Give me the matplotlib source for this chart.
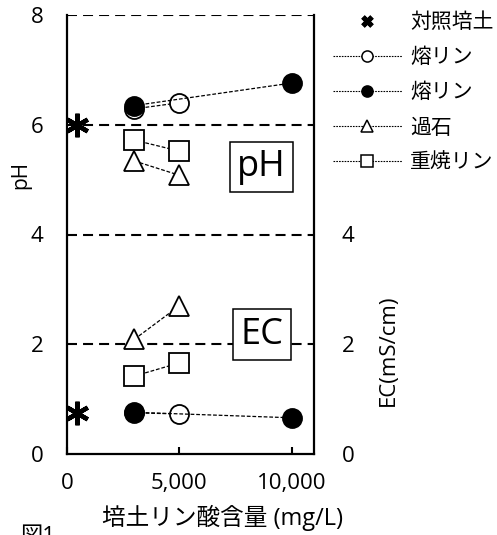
import matplotlib
matplotlib.use("Agg")
import matplotlib.pyplot as plt
from matplotlib.lines import Line2D

plt.rcParams['font.family'] = ['Open Sans', 'Noto Sans CJK JP', 'DejaVu Sans']

# ---- data ----
labels = ['対照培土', '熔リン', '熔リン', '過石', '重焼リン']
x_control = [450]
ph_control = [6.0]
ec_control = [0.75]

x_yorin_open = [3000, 5000]
ph_yorin_open = [6.29, 6.40]
ec_yorin_open = [0.75, 0.73]

x_yorin_fill = [3000, 10000]
ph_yorin_fill = [6.35, 6.76]
ec_yorin_fill = [0.76, 0.66]

x_kaseki = [3000, 5000]
ph_kaseki = [5.34, 5.08]
ec_kaseki = [2.09, 2.70]

x_jusho = [3000, 5000]
ph_jusho = [5.72, 5.52]
ec_jusho = [1.42, 1.66]

left_ticks = [0, 2, 4, 6, 8]
right_ticks = [0, 2, 4]
x_ticks = [0, 5000, 10000]
x_ticklabels = ['0', '5,000', '10,000']

W, H = 497, 535
fig = plt.figure(figsize=(W / 100, H / 100), dpi=100)
ax = fig.add_axes([67 / W, 1 - 454 / H, (314 - 67) / W, (454 - 15) / H])
ax.set_xlim(0, 11000)
ax.set_ylim(0, 8)

# grid lines (dashed)
for g in [2, 4, 6, 8]:
    ax.axhline(g, color='black', lw=1.5, linestyle=(0, (4.8, 2.9)), zorder=1)

ax.spines['top'].set_visible(False)
for s in ['left', 'right', 'bottom']:
    ax.spines[s].set_linewidth(1.6)

ms = 13.7
mew = 1.3
ls = (0, (3, 1.5))
lw = 0.9

def plot_series(a, x, y, marker, fc, z):
    a.plot(x, y, color='black', lw=lw, linestyle=ls, marker=marker, ms=ms,
           mfc=fc, mec='black', mew=mew, zorder=z)

# pH
ax.plot(x_control, ph_control, linestyle='none', marker=(6, 2, 0), ms=17, mew=3.2,
        color='black', zorder=5)
plot_series(ax, x_yorin_open, ph_yorin_open, 'o', 'white', 4)
plot_series(ax, x_yorin_fill, ph_yorin_fill, 'o', 'black', 5)
plot_series(ax, x_kaseki, ph_kaseki, '^', 'white', 4)
plot_series(ax, x_jusho, ph_jusho, 's', 'white', 4)

# EC (right axis, same scale)
ax2 = ax.twinx()
ax2.set_ylim(0, 8)
ax2.set_xlim(0, 11000)
for s in ax2.spines.values():
    s.set_visible(False)
ax2.plot(x_control, ec_control, linestyle='none', marker=(6, 2, 0), ms=17, mew=3.2,
         color='black', zorder=5)
plot_series(ax2, x_yorin_open, ec_yorin_open, 'o', 'white', 4)
plot_series(ax2, x_yorin_fill, ec_yorin_fill, 'o', 'black', 5)
plot_series(ax2, x_kaseki, ec_kaseki, '^', 'white', 4)
plot_series(ax2, x_jusho, ec_jusho, 's', 'white', 4)

# ticks
tfs = 16
ax.set_yticks(left_ticks)
ax.tick_params(axis='y', length=0, pad=17, labelsize=tfs)
ax.set_xticks(x_ticks)
ax.set_xticklabels(x_ticklabels)
ax.tick_params(axis='x', direction='in', length=5, width=1.5, pad=14, labelsize=tfs)
ax2.set_yticks(right_ticks)
ax2.tick_params(axis='y', length=0, pad=20, labelsize=tfs)

# axis labels
fig.text(21 / W, 1 - 175 / H, 'pH', rotation=90, ha='center', va='center', fontsize=15)
fig.text(388 / W, 1 - 350 / H, 'EC(mS/cm)', rotation=90, ha='center', va='center', fontsize=16)
fig.text(223 / W, 1 - 518 / H, '培土リン酸含量 (mg/L)', ha='center', va='center', fontsize=17)
fig.text(20 / W, 1 - 526 / H, '図1', ha='left', va='top', fontsize=16)

# boxed labels
box = dict(boxstyle='square,pad=0.2', fc='white', ec='black', lw=1.1)
fig.text(261.5 / W, 1 - 167 / H, 'pH', ha='center', va='center', fontsize=26, bbox=box, zorder=10)
fig.text(262 / W, 1 - 334.5 / H, 'EC', ha='center', va='center', fontsize=26, bbox=box, zorder=10)

# legend
lls = (0, (1.5, 1))
handles = [
    Line2D([], [], linestyle='none', marker=(4, 2, 45), ms=9, mew=3.5, color='black'),
    Line2D([], [], color='black', lw=0.8, linestyle=lls, marker='o', ms=8, mfc='white', mec='black', mew=1.1),
    Line2D([], [], color='black', lw=0.8, linestyle=lls, marker='o', ms=8, mfc='black', mec='black', mew=1.1),
    Line2D([], [], color='black', lw=0.8, linestyle=lls, marker='^', ms=8, mfc='white', mec='black', mew=1.1),
    Line2D([], [], color='black', lw=0.8, linestyle=lls, marker='s', ms=8, mfc='white', mec='black', mew=1.1),
]
fig.legend(handles, labels, loc='upper left', bbox_to_anchor=(333 / W, 1 - 12 / H),
           frameon=False, fontsize=15, handlelength=3.3, handletextpad=0.4,
           labelspacing=0.68, borderpad=0, borderaxespad=0)

fig.savefig('out.png', dpi=100)
